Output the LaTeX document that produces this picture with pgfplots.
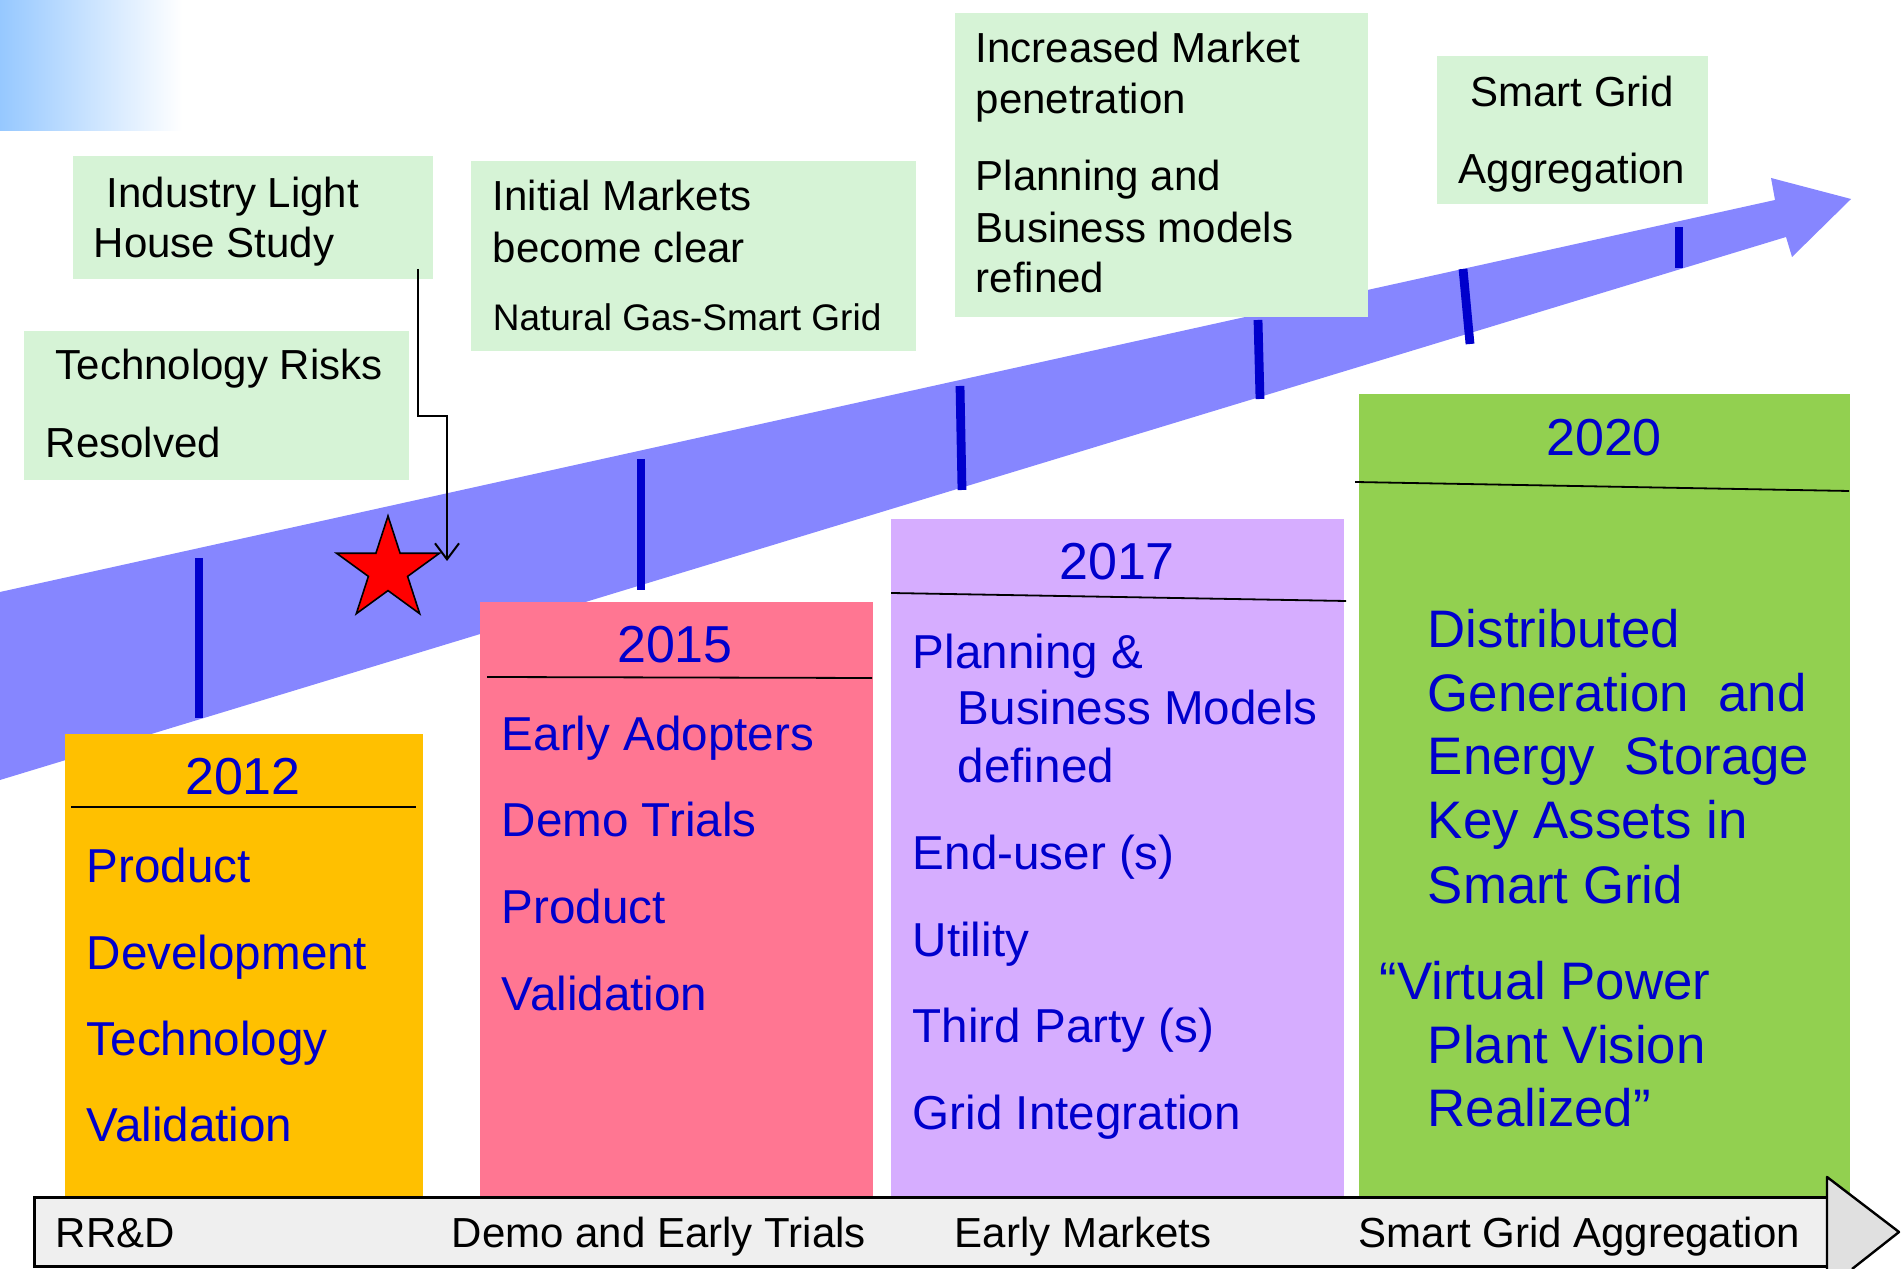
\documentclass[border=0pt]{standalone}
\usepackage{pgfplots}
\pgfplotsset{compat=1.18}
\usepackage{fontspec}
\setmainfont{Liberation Sans}
\usetikzlibrary{arrows.meta}
\definecolor{gradblue}{RGB}{150,200,255}
\definecolor{arrowblue}{RGB}{134,134,255}
\definecolor{tickblue}{RGB}{0,0,204}
\definecolor{lgreen}{RGB}{214,243,214}
\definecolor{orangeb}{RGB}{255,192,0}
\definecolor{pinkb}{RGB}{255,118,146}
\definecolor{purpb}{RGB}{214,173,255}
\definecolor{greenb}{RGB}{146,208,80}
\definecolor{txtblue}{RGB}{0,0,204}
\definecolor{barg}{RGB}{239,239,239}
\definecolor{headg}{RGB}{224,224,224}
\begin{document}
\begin{tikzpicture}[
  tl/.style={anchor=base west, inner sep=0pt, font=\fontsize{10.5}{12}\selectfont, text=black},
  ts/.style={anchor=base west, inner sep=0pt, font=\fontsize{9.25}{11}\selectfont, text=black},
  bl/.style={anchor=base west, inner sep=0pt, font=\fontsize{11.9}{14}\selectfont, text=txtblue},
  gl/.style={anchor=base west, inner sep=0pt, font=\fontsize{13.2}{15}\selectfont, text=txtblue},
  yr/.style={anchor=base, inner sep=0pt, font=\fontsize{13}{15}\selectfont, text=txtblue},
  bb/.style={anchor=base west, inner sep=0pt, font=\fontsize{10.5}{12}\selectfont, text=black}]
\begin{axis}[hide axis, scale only axis, width=475.25pt, height=317.25pt,
  xmin=0, xmax=1901, ymin=0, ymax=1269, y dir=reverse, clip=false]
% bounding frame
\addplot[draw=none] coordinates {(0,0) (1901,1269)};
% gradient corner
\addplot[draw=none, left color=gradblue, right color=white] coordinates {(0,0) (182,0) (182,131) (0,131)} -- cycle;
% big arrow
\addplot[draw=none, fill=arrowblue] coordinates {(0,592) (1775,200) (1771,178) (1851,199) (1792,257) (1786,237) (0,780)} -- cycle;
% tick marks on arrow
\addplot[tickblue, line width=2.2pt] coordinates {(199,558) (199,718)};
\addplot[tickblue, line width=2.2pt] coordinates {(641,459) (641,590)};
\addplot[tickblue, line width=2.2pt] coordinates {(960,386) (962,490)};
\addplot[tickblue, line width=2.2pt] coordinates {(1258,320) (1260,399)};
\addplot[tickblue, line width=2.2pt] coordinates {(1463,269) (1470,344)};
\addplot[tickblue, line width=2.2pt] coordinates {(1679,227) (1679,268)};
% star
\addplot[fill=red, draw=black, line width=0.4pt] coordinates {(388,516) (400.1,553.3) (439.4,553.3) (407.6,576.4) (419.7,613.7) (388,590.6) (356.3,613.7) (368.4,576.4) (336.6,553.3) (375.9,553.3)} -- cycle;
% light green boxes
\addplot[draw=none, fill=lgreen] coordinates {(73,156) (433,156) (433,279) (73,279)} -- cycle;
\addplot[draw=none, fill=lgreen] coordinates {(24,331) (409,331) (409,480) (24,480)} -- cycle;
\addplot[draw=none, fill=lgreen] coordinates {(471,161) (916,161) (916,351) (471,351)} -- cycle;
\addplot[draw=none, fill=lgreen] coordinates {(955,13) (1368,13) (1368,317) (955,317)} -- cycle;
\addplot[draw=none, fill=lgreen] coordinates {(1437,56) (1708,56) (1708,204) (1437,204)} -- cycle;
% connector arrow
\addplot[black, line width=0.5pt, -{Straight Barb[length=4pt,width=6pt]}] coordinates {(418,269) (418,416) (447,416) (447,561)};
% coloured boxes
\addplot[draw=none, fill=orangeb] coordinates {(65,734) (423,734) (423,1200) (65,1200)} -- cycle;
\addplot[draw=none, fill=pinkb] coordinates {(480,602) (873,602) (873,1200) (480,1200)} -- cycle;
\addplot[draw=none, fill=purpb] coordinates {(891,519) (1344,519) (1344,1200) (891,1200)} -- cycle;
\addplot[draw=none, fill=greenb] coordinates {(1359,394) (1850,394) (1850,1200) (1359,1200)} -- cycle;
% header rules
\addplot[black, line width=0.45pt] coordinates {(71,807) (416,807)};
\addplot[black, line width=0.45pt] coordinates {(487,677) (872,678)};
\addplot[black, line width=0.45pt] coordinates {(891,593) (1346,601)};
\addplot[black, line width=0.45pt] coordinates {(1355,482) (1849,491)};
% bottom bar
\addplot[fill=barg, draw=black, line width=0.75pt] coordinates {(34,1197) (1827,1197) (1827,1266) (34,1266)} -- cycle;
\addplot[draw=none, fill=headg] coordinates {(1827,1177) (1899,1232) (1852,1269) (1827,1269)} -- cycle;
\addplot[black, line width=0.6pt, line join=round] coordinates {(1827,1269) (1827,1177) (1899,1232) (1852,1269)};
% top texts
\node[tl] at (axis cs:106,208) {Industry Light};
\node[tl] at (axis cs:93,258) {House Study};
\node[tl] at (axis cs:55,380) {Technology Risks};
\node[tl] at (axis cs:45,458) {Resolved};
\node[tl] at (axis cs:492,211) {Initial Markets};
\node[tl] at (axis cs:492,263) {become clear};
\node[ts] at (axis cs:492,331) {Natural Gas-Smart Grid};
\node[tl] at (axis cs:975,63) {Increased Market};
\node[tl] at (axis cs:975,114) {penetration};
\node[tl] at (axis cs:975,191) {Planning and};
\node[tl] at (axis cs:975,243) {Business models};
\node[tl] at (axis cs:975,293) {refined};
\node[tl, anchor=base] at (axis cs:1572,107) {Smart Grid};
\node[tl, anchor=base] at (axis cs:1572,184) {Aggregation};
% box texts
\node[yr] at (axis cs:243,795) {2012};
\node[bl] at (axis cs:86,883) {Product};
\node[bl] at (axis cs:86,969) {Development};
\node[bl] at (axis cs:86,1055) {Technology};
\node[bl] at (axis cs:86,1141) {Validation};
\node[yr] at (axis cs:675,663) {2015};
\node[bl] at (axis cs:501,751) {Early Adopters};
\node[bl] at (axis cs:501,837) {Demo Trials};
\node[bl] at (axis cs:501,923) {Product};
\node[bl] at (axis cs:501,1010) {Validation};
\node[yr] at (axis cs:1117,580) {2017};
\node[bl] at (axis cs:912,669) {Planning \&};
\node[bl] at (axis cs:957,725) {Business Models};
\node[bl] at (axis cs:957,783) {defined};
\node[bl] at (axis cs:912,870) {End-user (s)};
\node[bl] at (axis cs:912,956) {Utility};
\node[bl] at (axis cs:912,1042) {Third Party (s)};
\node[bl] at (axis cs:912,1129) {Grid Integration};
\node[yr] at (axis cs:1604,456) {2020};
\node[gl] at (axis cs:1427,648) {Distributed};
\node[gl] at (axis cs:1427,712) {Generation\ \ and};
\node[gl] at (axis cs:1427,775) {Energy\ \ Storage};
\node[gl] at (axis cs:1427,839) {Key Assets in};
\node[gl] at (axis cs:1427,903) {Smart Grid};
\node[gl] at (axis cs:1379,999) {“Virtual Power};
\node[gl] at (axis cs:1427,1063) {Plant Vision};
\node[gl] at (axis cs:1427,1126) {Realized”};
% bottom bar labels
\node[bb] at (axis cs:55,1247) {RR\&D};
\node[bb] at (axis cs:451,1247) {Demo and Early Trials};
\node[bb] at (axis cs:954,1247) {Early Markets};
\node[bb] at (axis cs:1358,1247) {Smart Grid Aggregation};
\end{axis}
\pgfresetboundingbox
\path[use as bounding box] (current axis.south west) rectangle (current axis.north east);
\end{tikzpicture}
\end{document}
